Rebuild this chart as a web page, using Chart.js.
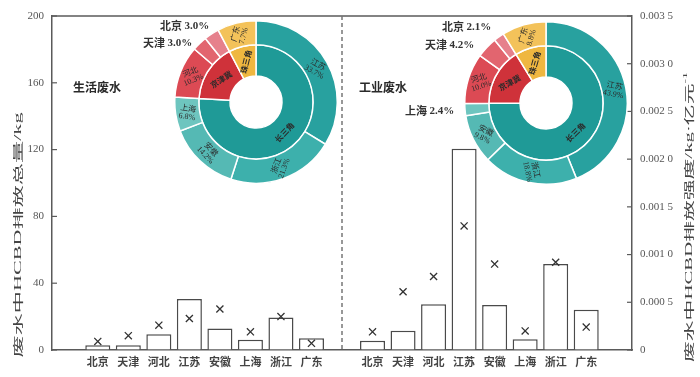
<!DOCTYPE html>
<html><head><meta charset="utf-8">
<script src="https://cdn.jsdelivr.net/npm/chart.js@4.4.1/dist/chart.umd.min.js"></script>
<style>
html,body{margin:0;padding:0;background:#fff;}
#wrap{position:relative;width:700px;height:377px;overflow:hidden;}
canvas{position:absolute;}
</style></head><body>
<div id="wrap">
<canvas id="main" width="700" height="377" style="left:0;top:0;width:700px;height:377px"></canvas>
<canvas id="d1" width="164" height="164" style="left:174px;top:20px;width:164px;height:164px"></canvas>
<canvas id="d2" width="164" height="164" style="left:464px;top:21px;width:164px;height:164px"></canvas>
</div>
<script>
// ---- data ----
const provinces = ['北京','天津','河北','江苏','安徽','上海','浙江','广东'];
const domesticTotal = [2.8, 2.8, 9.5, 30.6, 12.9, 6.2, 19.4, 7.0];
const industrialTotal = [5.6, 11.5, 27.4, 120.5, 26.9, 6.5, 51.5, 24.1];
const domesticIntensity = [0.00009, 0.00015, 0.00026, 0.00033, 0.00043, 0.00019, 0.00035, 0.00007];
const industrialIntensity = [0.00019, 0.00061, 0.00077, 0.0013, 0.0009, 0.0002, 0.00092, 0.00024];

const ringOrder = ['江苏','浙江','安徽','上海','河北','天津','北京','广东'];
const domesticShare = [33.7, 21.3, 14.2, 6.8, 10.3, 3.0, 3.0, 7.7];
const industrialShare = [43.9, 18.8, 9.8, 2.4, 10.0, 4.2, 2.1, 8.8];
const regions = ['长三角','京津冀','珠三角'];
const domesticRegionShare = [76.0, 16.3, 7.7];
const industrialRegionShare = [74.9, 16.3, 8.8];

const leftTicks = [0, 40, 80, 120, 160, 200];
const panelTitles = ['生活废水', '工业废水'];

// ---- styles ----
const provColors = ['#28a19f','#3db0ac','#55b9b4','#6ec5bf','#dc4a54','#e2656f','#e6818c','#f3c25a'];
const regionColors = ['#1f9a97','#cf323a','#efb740'];
const axisColor = '#5a5a5a';
const CJK = '"Noto Sans CJK SC"';
const SERIF = '"Liberation Serif"';

const xLabels = ['', ...provinces, '', ...provinces, ''];
const barData = [null, ...domesticTotal, null, ...industrialTotal, null];
const crossData = [null, ...domesticIntensity, null, ...industrialIntensity, null];

function fmtRight(v){
  if (Math.abs(v) < 1e-12) return '0';
  const s = v.toFixed(4);
  return s.slice(0,5) + ' ' + s.slice(5);
}

function drawStretched(ctx, parts, cx, cy, targetLen){
  ctx.save();
  ctx.translate(cx, cy); ctx.rotate(-Math.PI/2);
  let total = 0;
  parts.forEach(p => { ctx.font = p.font; p.w = ctx.measureText(p.text).width; total += p.w; });
  const s = targetLen / total;
  ctx.scale(s, 1);
  let x = -total/2;
  ctx.textBaseline = 'middle'; ctx.textAlign = 'left';
  parts.forEach(p => { ctx.font = p.font; ctx.fillText(p.text, x, p.dy || 0); x += p.w; });
  ctx.restore();
}

function drawMixed(ctx, segs, x, y){
  ctx.textAlign='left'; ctx.textBaseline='middle';
  segs.forEach(s => { ctx.font = s.font; ctx.fillText(s.text, x, y); x += ctx.measureText(s.text).width; });
}

const framePlugin = {
  id: 'frame',
  afterDraw(chart){
    const {ctx, chartArea: a, scales} = chart;
    ctx.save();
    ctx.strokeStyle = axisColor; ctx.lineWidth = 1.5;
    ctx.beginPath(); ctx.moveTo(a.left, a.top); ctx.lineTo(a.right, a.top); ctx.stroke();
    ctx.lineWidth = 1.2;
    scales.y.ticks.forEach(t => { const py = scales.y.getPixelForValue(t.value); ctx.beginPath(); ctx.moveTo(a.left, py); ctx.lineTo(a.left+5, py); ctx.stroke(); });
    scales.y2.ticks.forEach(t => { const py = scales.y2.getPixelForValue(t.value); ctx.beginPath(); ctx.moveTo(a.right, py); ctx.lineTo(a.right-5, py); ctx.stroke(); });
    const dx = scales.x.getPixelForValue(9);
    ctx.setLineDash([4,3]); ctx.strokeStyle = '#777'; ctx.lineWidth = 1.5;
    ctx.beginPath(); ctx.moveTo(dx, a.top); ctx.lineTo(dx, a.bottom); ctx.stroke();
    ctx.setLineDash([]);
    ctx.fillStyle = '#2a2a2a';
    ctx.font = 'bold 12px ' + CJK; ctx.textBaseline='middle'; ctx.textAlign='left';
    ctx.fillText(panelTitles[0], 73, 87);
    ctx.fillText(panelTitles[1], 359, 87);
    ctx.fillStyle = '#333';
    const fC = 'bold 11px ' + CJK, fN = 'bold 11px ' + SERIF;
    const lab = (name, pct, x, y) => drawMixed(ctx, [{text:name+' ', font:fC},{text:pct.toFixed(1)+'%', font:fN}], x, y);
    lab(ringOrder[6], domesticShare[6], 160, 26);
    lab(ringOrder[5], domesticShare[5], 143, 43);
    lab(ringOrder[6], industrialShare[6], 442, 27);
    lab(ringOrder[5], industrialShare[5], 425, 45);
    lab(ringOrder[3], industrialShare[3], 405, 111);
    ctx.fillStyle = '#444';
    const tC = '10.5px ' + CJK, tN = '10.5px ' + SERIF;
    drawStretched(ctx, [{text:'废水中',font:tC},{text:'HCBD',font:tN},{text:'排放总量',font:tC},{text:'/kg',font:tN}], 18, 235, 245);
    drawStretched(ctx, [{text:'废水中',font:tC},{text:'HCBD',font:tN},{text:'排放强度',font:tC},{text:'/kg·',font:tN},{text:'亿元',font:tC},{text:'-1',font:'7px '+SERIF, dy:-4}], 689, 217, 290);
    ctx.restore();
  }
};

new Chart(document.getElementById('main'), {
  type: 'bar',
  data: { labels: xLabels, datasets: [
    { type:'bar', data: barData, backgroundColor:'#ffffff', borderColor:'#4a4a4a', borderWidth:1.5,
      barPercentage:0.82, categoryPercentage:1, yAxisID:'y', order:2 },
    { type:'line', data: crossData, showLine:false, pointStyle:'crossRot', pointRadius:5, pointHoverRadius:5,
      borderColor:'#333', backgroundColor:'#333', pointBorderWidth:1.3, yAxisID:'y2', order:1 }
  ]},
  options: {
    responsive:false, animation:false, devicePixelRatio:1,
    layout:{ padding:{ top:16, left:0, right:0, bottom:0 } },
    plugins:{ legend:{display:false}, tooltip:{enabled:false} },
    scales:{
      x:{ grid:{display:true, drawOnChartArea:false, drawTicks:false}, border:{color:axisColor, width:1.5},
          ticks:{ font:{family:'Noto Sans CJK SC', size:11, weight:'bold'}, color:'#444', padding:5, autoSkip:false, maxRotation:0 },
          afterFit(s){ s.height = 27; } },
      y:{ position:'left', min:0, max:200, afterBuildTicks(s){ s.ticks = leftTicks.map(v=>({value:v})); },
          ticks:{ font:{family:'Liberation Serif', size:11}, color:'#555', padding:8 },
          grid:{display:true, drawOnChartArea:false, drawTicks:false}, border:{color:axisColor, width:1.5},
          afterFit(s){ s.width = 52; } },
      y2:{ position:'right', min:0, max:0.0035,
          ticks:{ stepSize:0.0005, callback:(v)=>fmtRight(v), font:{family:'Liberation Serif', size:11}, color:'#555', padding:8 },
          grid:{display:true, drawOnChartArea:false, drawTicks:false}, border:{color:axisColor, width:1.5},
          afterFit(s){ s.width = 68; } }
    }
  },
  plugins:[framePlugin]
});

const donutLabels = {
  id:'donutLabels',
  afterDatasetsDraw(chart){
    const ctx = chart.ctx;
    ctx.save();
    ctx.fillStyle = '#2b2b2b';
    chart.data.datasets.forEach((ds, di) => {
      const meta = chart.getDatasetMeta(di);
      meta.data.forEach((arc, i) => {
        const p = arc.getProps(['x','y','startAngle','endAngle','innerRadius','outerRadius']);
        const a = (p.startAngle + p.endAngle)/2;
        const r = (p.innerRadius + p.outerRadius)/2;
        let rot = -a;
        while (rot > Math.PI/2) rot -= Math.PI;
        while (rot <= -Math.PI/2) rot += Math.PI;
        const x = p.x + r*Math.cos(a), y = p.y + r*Math.sin(a);
        ctx.save(); ctx.translate(x, y); ctx.rotate(rot);
        ctx.textAlign='center'; ctx.textBaseline='middle';
        if (di === 0) {
          const v = ds.data[i];
          if (v < 5) { ctx.restore(); return; }
          ctx.font = '8px ' + CJK; ctx.fillText(ringOrder[i], 0, -4.5);
          ctx.font = '8px ' + SERIF; ctx.fillText(v.toFixed(1)+'%', 0, 4.5);
        } else {
          ctx.font = 'bold 8px ' + CJK; ctx.fillText(regions[i], 0, 0);
        }
        ctx.restore();
      });
    });
    ctx.restore();
  }
};

function makeDonut(id, shares, regionShares){
  new Chart(document.getElementById(id), {
    type:'doughnut',
    data:{ labels: ringOrder, datasets:[
      { data: shares, backgroundColor: provColors, borderColor:'#fff', borderWidth:1.5, weight:24, hoverOffset:0, offset:0 },
      { data: regionShares, backgroundColor: regionColors, borderColor:'#fff', borderWidth:1.5, weight:31, hoverOffset:0, offset:0 }
    ]},
    options:{ responsive:false, animation:false, devicePixelRatio:1, cutout:'32%', rotation:0, circumference:360,
      layout:{padding:0}, plugins:{legend:{display:false}, tooltip:{enabled:false}} },
    plugins:[donutLabels]
  });
}
makeDonut('d1', domesticShare, domesticRegionShare);
makeDonut('d2', industrialShare, industrialRegionShare);
</script>
</body></html>
